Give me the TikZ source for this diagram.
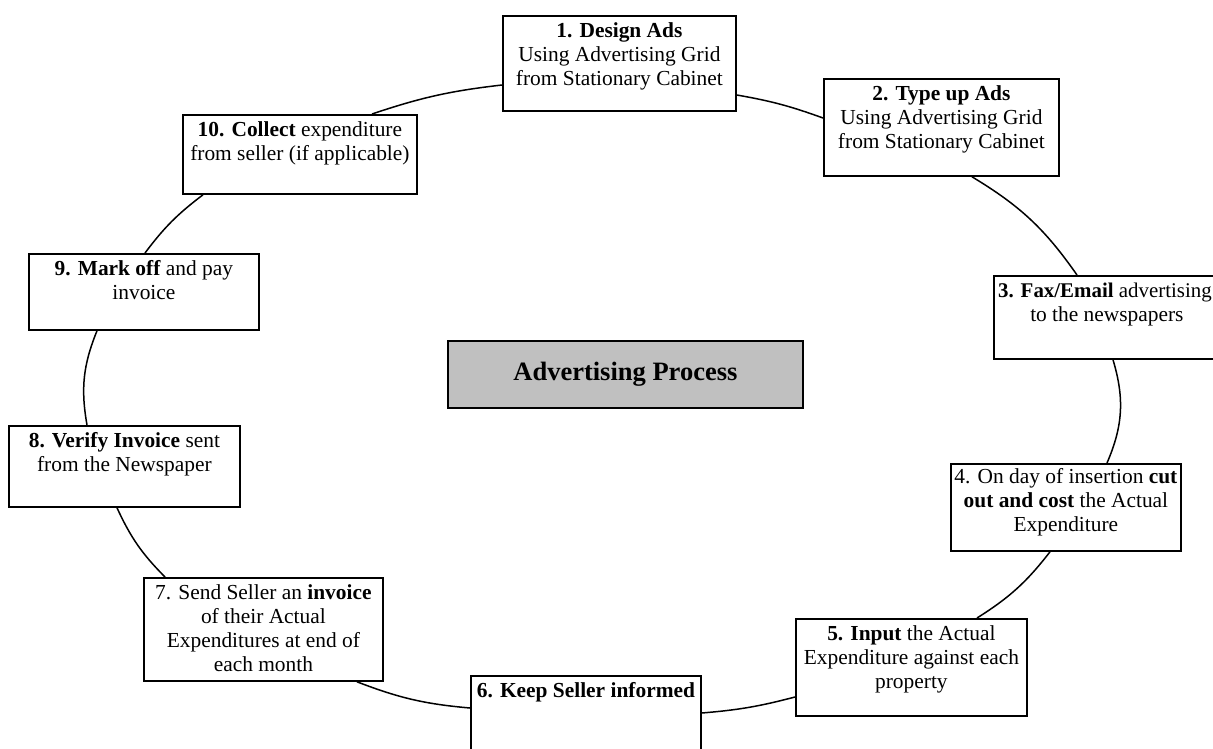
\documentclass[tikz,border=0pt]{standalone}
\usepackage{fontspec}
\setmainfont{Liberation Serif}
\definecolor{boxgray}{RGB}{192,192,192}
\newcommand{\stepbox}[4][5]{\parbox[t][#3pt][t]{#2pt}{\centering\vspace*{#1pt}\strut #4}}
\begin{document}
\begin{tikzpicture}[x=1pt,y=-1pt,
  bx/.style={draw, line width=1.8pt, inner sep=0pt, anchor=north west, fill=white, font=\fontsize{21.4}{24}\selectfont},
  conn/.style={line width=1.5pt}]
\clip (0,0) rectangle (1213,749);
\fill[white] (0,0) rectangle (1213,749);

\node[bx] (n1) at (502,15) {\stepbox{233}{95}{\textbf{1. Design Ads}\\Using Advertising Grid\\from Stationary Cabinet}};
\node[bx] (n2) at (823,78) {\stepbox{235}{97}{\textbf{2. Type up Ads}\\Using Advertising Grid\\from Stationary Cabinet}};
\node[bx] (n3) at (993,275) {\stepbox{226}{83}{\mbox{\hspace*{-4pt}\fontsize{20.9}{24}\selectfont\textbf{3. Fax/Email} advertising}\\to the newspapers}};
\node[bx] (n4) at (950,463) {\stepbox[3]{230}{87}{4. On day of insertion \textbf{cut}\\\textbf{out and cost} the Actual\\Expenditure}};
\node[bx] (n5) at (795,618) {\stepbox{231}{97}{\textbf{5. Input} the Actual\\Expenditure against each\\property}};
\node[bx] (n6) at (470,675) {\stepbox{230}{100}{\textbf{6. Keep Seller informed}}};
\node[bx] (n7) at (143,577) {\stepbox{239}{103}{7. Send Seller an \textbf{invoice}\\of their Actual\\Expenditures at end of\\each month}};
\node[bx] (n8) at (8,425) {\stepbox{231}{81}{\textbf{8. Verify Invoice} sent\\from the Newspaper}};
\node[bx] (n9) at (28,253) {\stepbox{230}{76}{\textbf{9. Mark off} and pay\\invoice}};
\node[bx] (n10) at (182,114) {\stepbox{234}{79}{\textbf{10. Collect} expenditure\\from seller (if applicable)}};

\node[draw, line width=1.8pt, fill=boxgray, anchor=north west, minimum width=355pt, minimum height=67pt, inner sep=0pt,
  font=\fontsize{26.5}{30}\selectfont\bfseries] (c) at (447,340) {Advertising Process};

\draw[conn] (n1.east |- 0,95) to[bend left=5] (n2.west |- 0,118);
\draw[conn] (n2.south -| 972,0) to[bend left=12] (n3.north -| 1077,0);
\draw[conn] (n3.south -| 1113,0) to[bend left=20] (n4.north -| 1107,0);
\draw[conn] (n4.south -| 1050,0) to[bend left=10] (n5.north -| 977,0);
\draw[conn] (n5.west |- 0,697) to[bend left=5] (n6.east |- 0,713);
\draw[conn] (n6.west |- 0,708) to[bend left=8] (n7.south -| 357,0);
\draw[conn] (n7.north -| 165,0) to[bend left=10] (n8.south -| 117,0);
\draw[conn] (n8.north -| 87,0) to[bend left=16] (n9.south -| 97,0);
\draw[conn] (n9.north -| 145,0) to[bend left=8] (n10.south -| 203,0);
\draw[conn] (n10.north -| 372,0) to[bend left=6] (n1.west |- 0,85);
\end{tikzpicture}
\end{document}
